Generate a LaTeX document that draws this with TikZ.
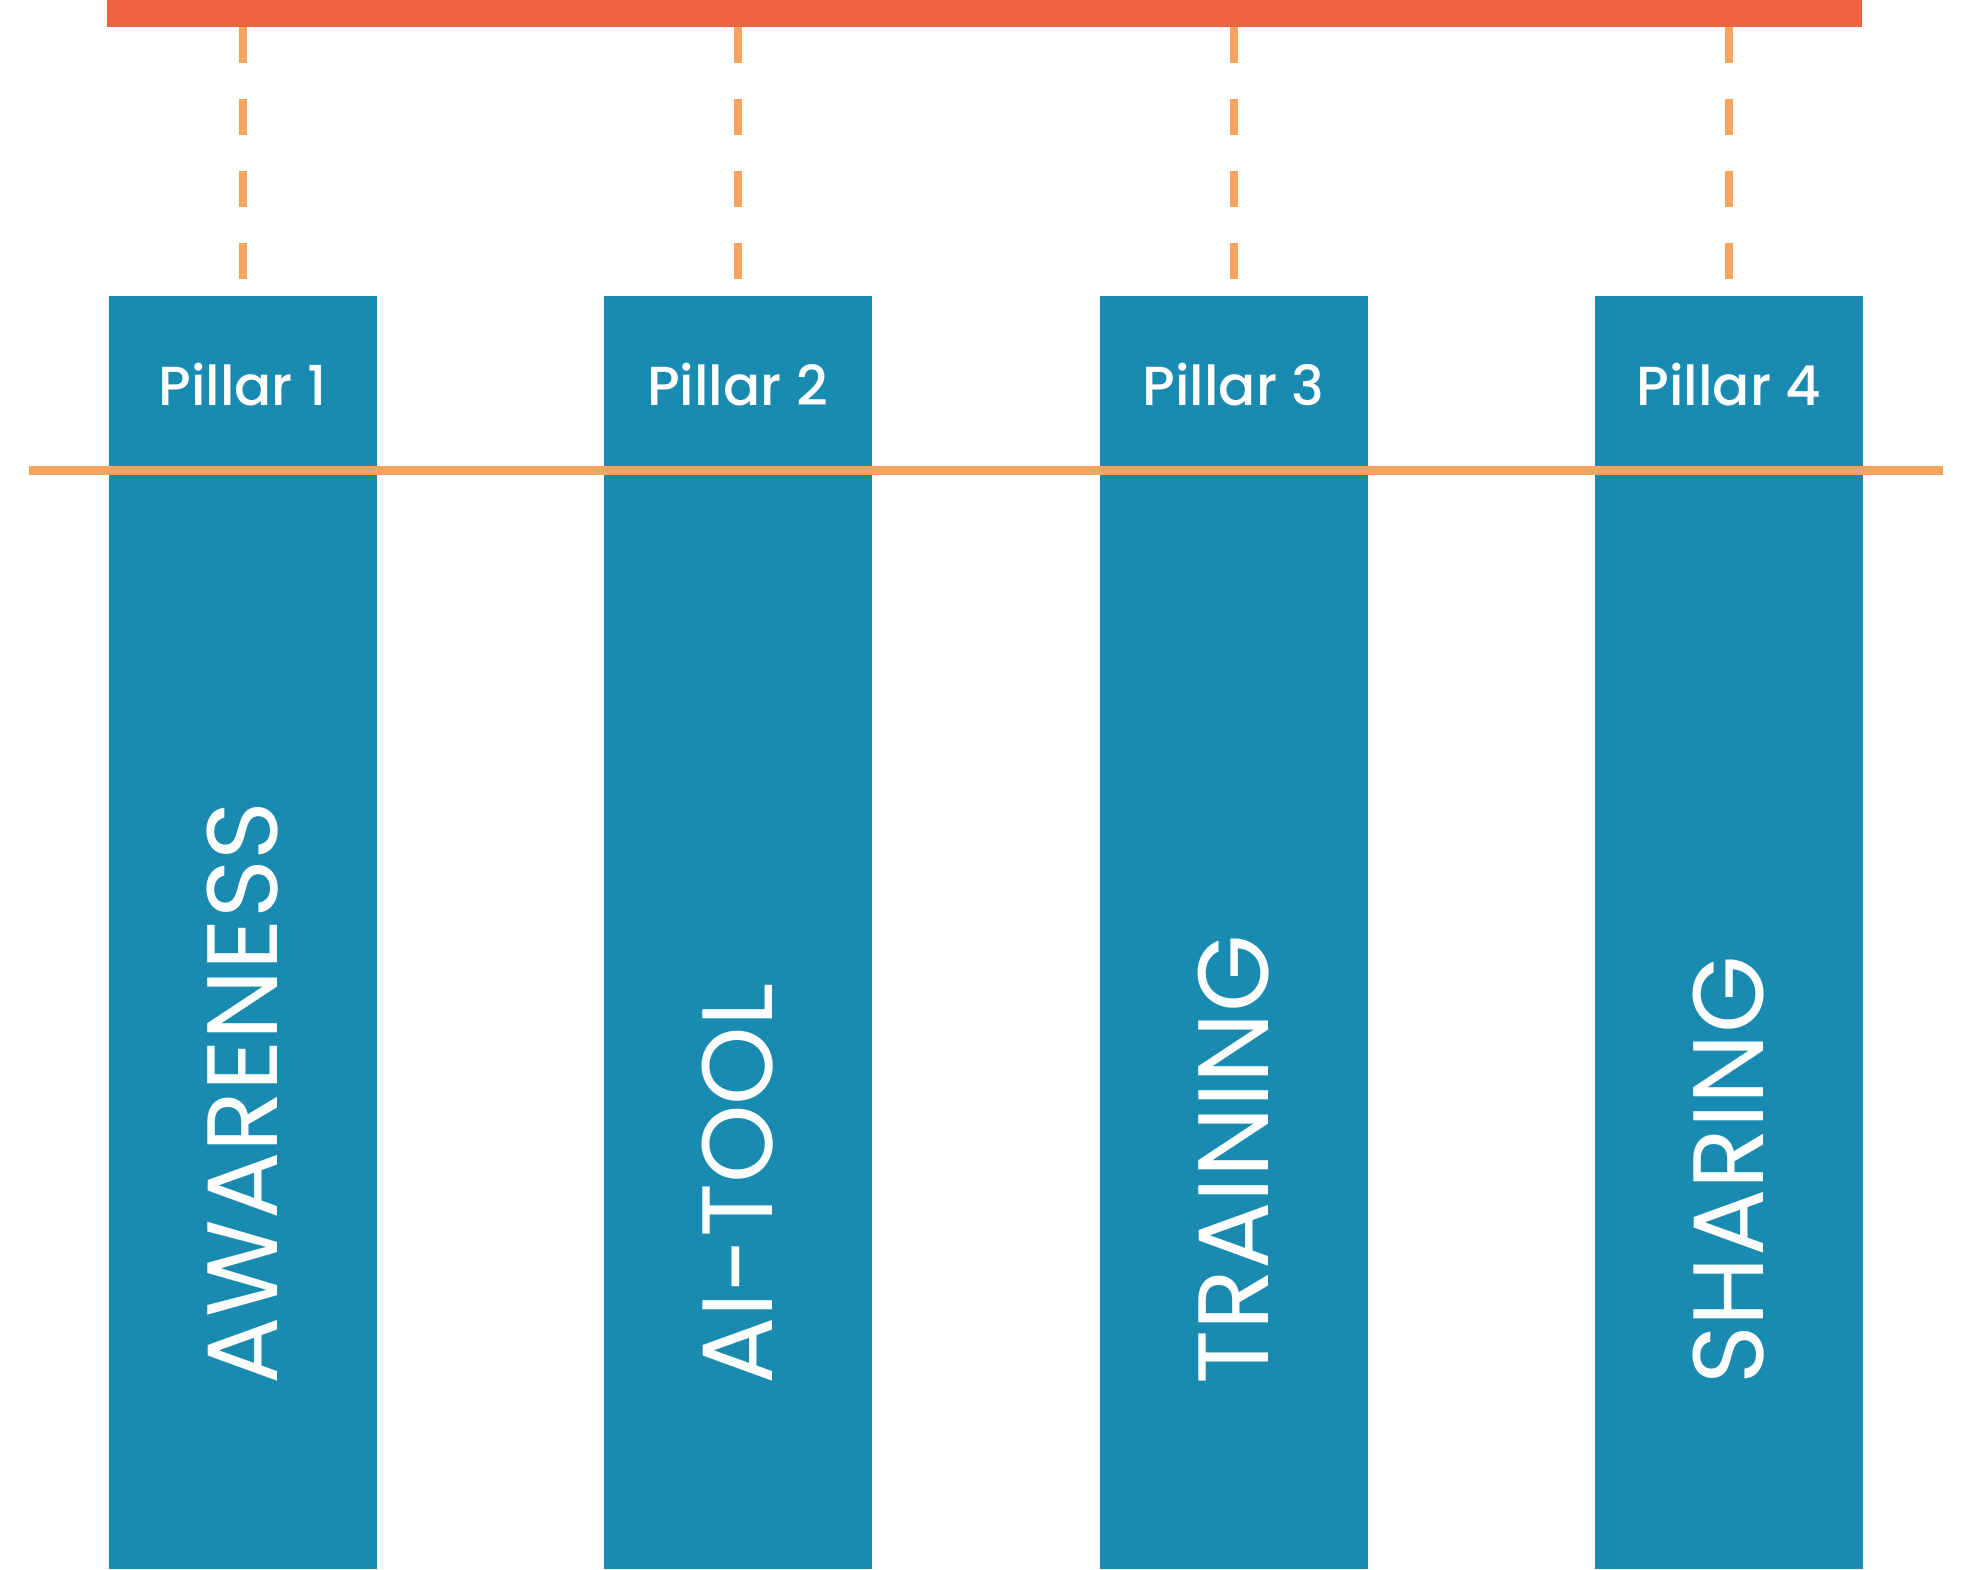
\documentclass[tikz,border=0pt]{standalone}
\usepackage{fontspec}
\setmainfont{Poppins}
\newfontfamily\labelfont{Poppins Medium}
\definecolor{barred}{RGB}{238,99,66}
\definecolor{lineorange}{RGB}{246,164,94}
\definecolor{pillarblue}{RGB}{26,139,176}
\begin{document}
\begin{tikzpicture}[x=1pt,y=-1pt,
  pillarbox/.style={fill=pillarblue,draw=none,anchor=north,minimum width=268pt,minimum height=1273pt,inner sep=0pt},
  dashline/.style={draw=lineorange,line width=8pt,dash pattern=on 36pt off 36pt},
  pillarlabel/.style={text=white,font=\labelfont\fontsize{55}{60}\selectfont,inner sep=0pt},
  pillarword/.style={text=white,font=\fontsize{100}{110}\selectfont,inner sep=0pt,rotate=90,anchor=west}]
\useasboundingbox (0,0) rectangle (1980,1569);
\fill[white] (0,0) rectangle (1980,1569);
% top bar
\node[fill=barred,inner sep=0pt,minimum width=1755pt,minimum height=27pt,anchor=north west] (bar) at (107,0) {};
% pillars
\node[pillarbox] (p1) at (242.5,296) {};
\node[pillarbox] (p2) at (737.5,296) {};
\node[pillarbox] (p3) at (1233.5,296) {};
\node[pillarbox] (p4) at (1728.8,296) {};
% dashed connectors
\foreach \i in {1,2,3,4}{
  \coordinate (d\i) at ([yshift=17pt]p\i.north);
  \draw[dashline] (bar.south -| p\i.north) -- (d\i);
}
% labels
\node[pillarlabel] (l1) at (242.5,385) {Pillar 1};
\node[pillarlabel] (l2) at (737.5,385) {Pillar 2};
\node[pillarlabel] (l3) at (1233.5,385) {Pillar 3};
\node[pillarlabel] (l4) at (1728.8,385) {Pillar 4};
% orange line
\coordinate (hl) at (29,470);
\coordinate (hr) at (1943,470);
\draw[draw=lineorange,line width=9pt] (hl) -- (hr);
% vertical words
\node[pillarword] (w1) at (242.5,1385) {AWARENESS};
\node[pillarword] (w2) at (737.5,1385) {AI-TOOL};
\node[pillarword] (w3) at (1233.5,1385) {TRAINING};
\node[pillarword] (w4) at (1728.8,1385) {SHARING};
\end{tikzpicture}
\end{document}
